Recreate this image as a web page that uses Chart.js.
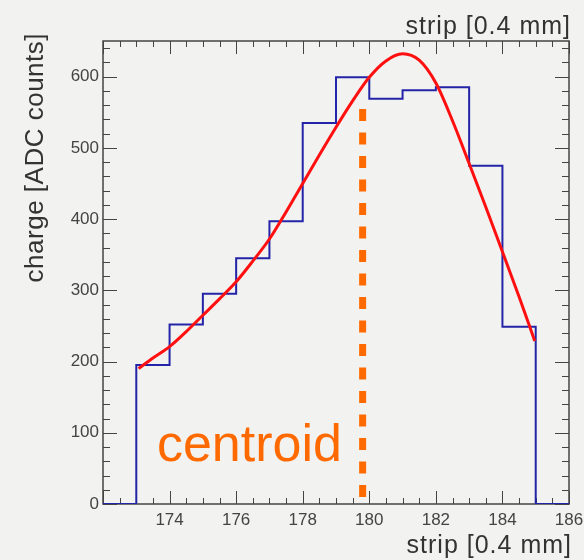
<!DOCTYPE html>
<html>
<head>
<meta charset="utf-8">
<script src="https://cdn.jsdelivr.net/npm/chart.js@4/dist/chart.umd.min.js"></script>
<style>
  html, body { margin: 0; padding: 0; background: #f2f2f0; }
  canvas { display: block; }
</style>
</head>
<body>
<canvas id="myChart" width="584" height="560"></canvas>
<script>
// histogram: lower bin edges and charge per strip
const binEdges = [172, 173, 174, 175, 176, 177, 178, 179, 180, 181, 182, 183, 184, 185];
const counts = [0, 195, 252, 295, 345, 397, 535, 599, 569, 581, 585, 475, 249, 0];
const histEnd = 186;

// fit curve
const fitX = [173.07, 173.5, 174, 174.5, 175, 175.5, 176, 176.5, 177, 177.5, 178, 178.5,
  179, 179.5, 180, 180.5, 181, 181.5, 182, 182.5, 183, 183.5, 184, 184.5, 184.97];
const fitY = [190, 205, 221, 242, 265, 288, 312, 341, 372, 410, 450, 490,
  529, 566, 599, 622, 632, 623, 591, 538, 478, 417, 354, 291, 229];

const centroidX = 179.8;
const centroidSpan = [10, 559];
const centroidLabel = "centroid";
const centroidLabelPos = { x: 173.62, y: 60 };

const xTitle = "strip [0.4 mm]";
const yTitle = "charge [ADC counts]";

const FONT = "'Liberation Sans', Arial, sans-serif";

const histData = binEdges.map((x, i) => ({ x: x, y: counts[i] }));
histData.push({ x: histEnd, y: 0 });
const fitData = fitX.map((x, i) => ({ x: x, y: fitY[i] }));
const centroidData = [
  { x: centroidX, y: centroidSpan[0] },
  { x: centroidX, y: centroidSpan[1] },
];

// frame and inward ticks on all four sides, like a ROOT canvas
const frameTicks = {
  id: "frameTicks",
  beforeDatasetsDraw(chart) {
    const { ctx, chartArea: a, scales } = chart;
    const xs = scales.x, ys = scales.y;
    ctx.save();
    ctx.strokeStyle = "#444";
    ctx.lineWidth = 1;
    ctx.beginPath();
    for (let v = xs.min; v <= xs.max + 1e-6; v += 0.5) {
      const px = Math.round(xs.getPixelForValue(v)) + 0.5;
      const len = Math.abs(v % 2) < 1e-6 ? 13 : 6;
      ctx.moveTo(px, a.bottom); ctx.lineTo(px, a.bottom - len);
      ctx.moveTo(px, a.top); ctx.lineTo(px, a.top + len);
    }
    for (let v = ys.min; v <= ys.max + 1e-6; v += 20) {
      const py = Math.round(ys.getPixelForValue(v)) + 0.5;
      const len = Math.abs(v % 100) < 1e-6 ? 14 : 7;
      ctx.moveTo(a.left, py); ctx.lineTo(a.left + len, py);
      ctx.moveTo(a.right, py); ctx.lineTo(a.right - len, py);
    }
    ctx.stroke();
    ctx.lineWidth = 1.5;
    ctx.strokeRect(a.left, a.top, a.right - a.left, a.bottom - a.top);
    ctx.restore();
  },
  afterDatasetsDraw(chart) {
    const { ctx, scales } = chart;
    ctx.save();
    ctx.fillStyle = "#ff6a00";
    ctx.font = "52px " + FONT;
    ctx.textAlign = "left";
    ctx.textBaseline = "alphabetic";
    ctx.fillText(centroidLabel,
      scales.x.getPixelForValue(centroidLabelPos.x),
      scales.y.getPixelForValue(centroidLabelPos.y));
    ctx.restore();
  },
  afterDraw(chart) {
    const { ctx } = chart;
    ctx.save();
    ctx.fillStyle = "#333";
    ctx.font = "25px " + FONT;
    ctx.letterSpacing = "1px";
    ctx.textAlign = "right";
    ctx.textBaseline = "alphabetic";
    ctx.fillText(xTitle, 571, 34);
    ctx.fillText(xTitle, 572, 553);
    ctx.translate(43, 33);
    ctx.rotate(-Math.PI / 2);
    ctx.font = "26px " + FONT;
    ctx.letterSpacing = "0.5px";
    ctx.fillText(yTitle, 0, 0);
    ctx.restore();
  },
};

new Chart(document.getElementById("myChart").getContext("2d"), {
  type: "line",
  data: {
    datasets: [
      {
        label: "fit",
        data: fitData,
        borderColor: "#ff1010",
        borderWidth: 3,
        pointRadius: 0,
        cubicInterpolationMode: "monotone",
        order: 0,
      },
      {
        label: "centroid",
        data: centroidData,
        borderColor: "#ff6a00",
        borderWidth: 7,
        borderDash: [12, 11.5],
        borderCapStyle: "butt",
        pointRadius: 0,
        order: 1,
      },
      {
        label: "charge",
        data: histData,
        borderColor: "#2424a8",
        borderWidth: 2,
        stepped: "before",
        pointRadius: 0,
        order: 2,
      },
    ],
  },
  options: {
    responsive: false,
    animation: false,
    devicePixelRatio: 1,
    layout: { padding: { left: 0, right: 15, top: 0, bottom: 0 } },
    plugins: { legend: { display: false }, tooltip: { enabled: false } },
    scales: {
      x: {
        type: "linear",
        position: "bottom",
        min: 172,
        max: 186,
        grid: { display: false, drawTicks: false },
        border: { display: false },
        ticks: {
          stepSize: 2,
          padding: 6,
          color: "#444",
          font: { family: FONT, size: 17 },
          maxRotation: 0,
          callback: (v) => (v === 172 ? "" : v),
        },
        afterFit: (scale) => {
          scale.height = 56;
          scale.paddingLeft = 0;
          scale.paddingRight = 0;
        },
      },
      x2: {
        type: "linear",
        position: "top",
        min: 172,
        max: 186,
        grid: { display: false, drawTicks: false },
        border: { display: false },
        ticks: { display: false },
        afterFit: (scale) => { scale.height = 41; },
      },
      y: {
        min: 0,
        max: 650,
        grid: { display: false, drawTicks: false },
        border: { display: false },
        ticks: {
          stepSize: 100,
          padding: 4,
          color: "#444",
          font: { family: FONT, size: 17 },
          callback: (v) => (v % 100 === 0 ? v : ""),
        },
        afterFit: (scale) => {
          scale.width = 103;
          scale.paddingTop = 0;
          scale.paddingBottom = 0;
        },
      },
    },
  },
  plugins: [frameTicks],
});
</script>
</body>
</html>
